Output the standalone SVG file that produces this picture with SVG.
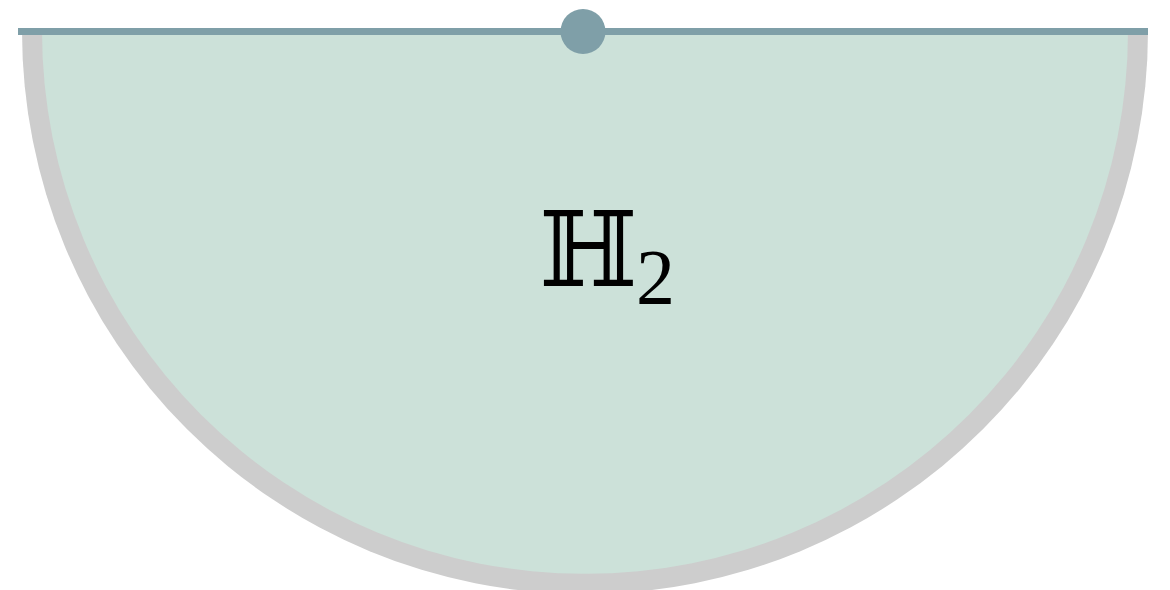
<svg xmlns="http://www.w3.org/2000/svg" width="1170" height="590" viewBox="0 0 1170 590">
<style>
.rim{fill:#cdcdcd}
.disc{fill:#cce1d9}
.bound{stroke:#7f9fa8;stroke-width:7;fill:none}
.pt{fill:#7f9fa8}
.lbl{font-family:"DejaVu Serif","Liberation Serif",serif;fill:#000}
</style>
<g id="halfplane">
<path class="rim" d="M 22 31 A 563 563 0 0 0 1148 31 Z"/>
<path class="disc" d="M 42 31 A 543 543 0 0 0 1128 31 Z"/>
</g>
<g id="connectors">
<line class="bound" x1="18" y1="31.5" x2="1148" y2="31.5"/>
</g>
<g id="point">
<circle class="pt" cx="583" cy="31.5" r="22.5"/>
</g>
<g id="label">
<text class="lbl" x="539" y="286" font-size="104">ℍ</text>
<text x="636" y="303" font-size="78" font-family="Liberation Serif,serif">2</text>
</g>
</svg>
